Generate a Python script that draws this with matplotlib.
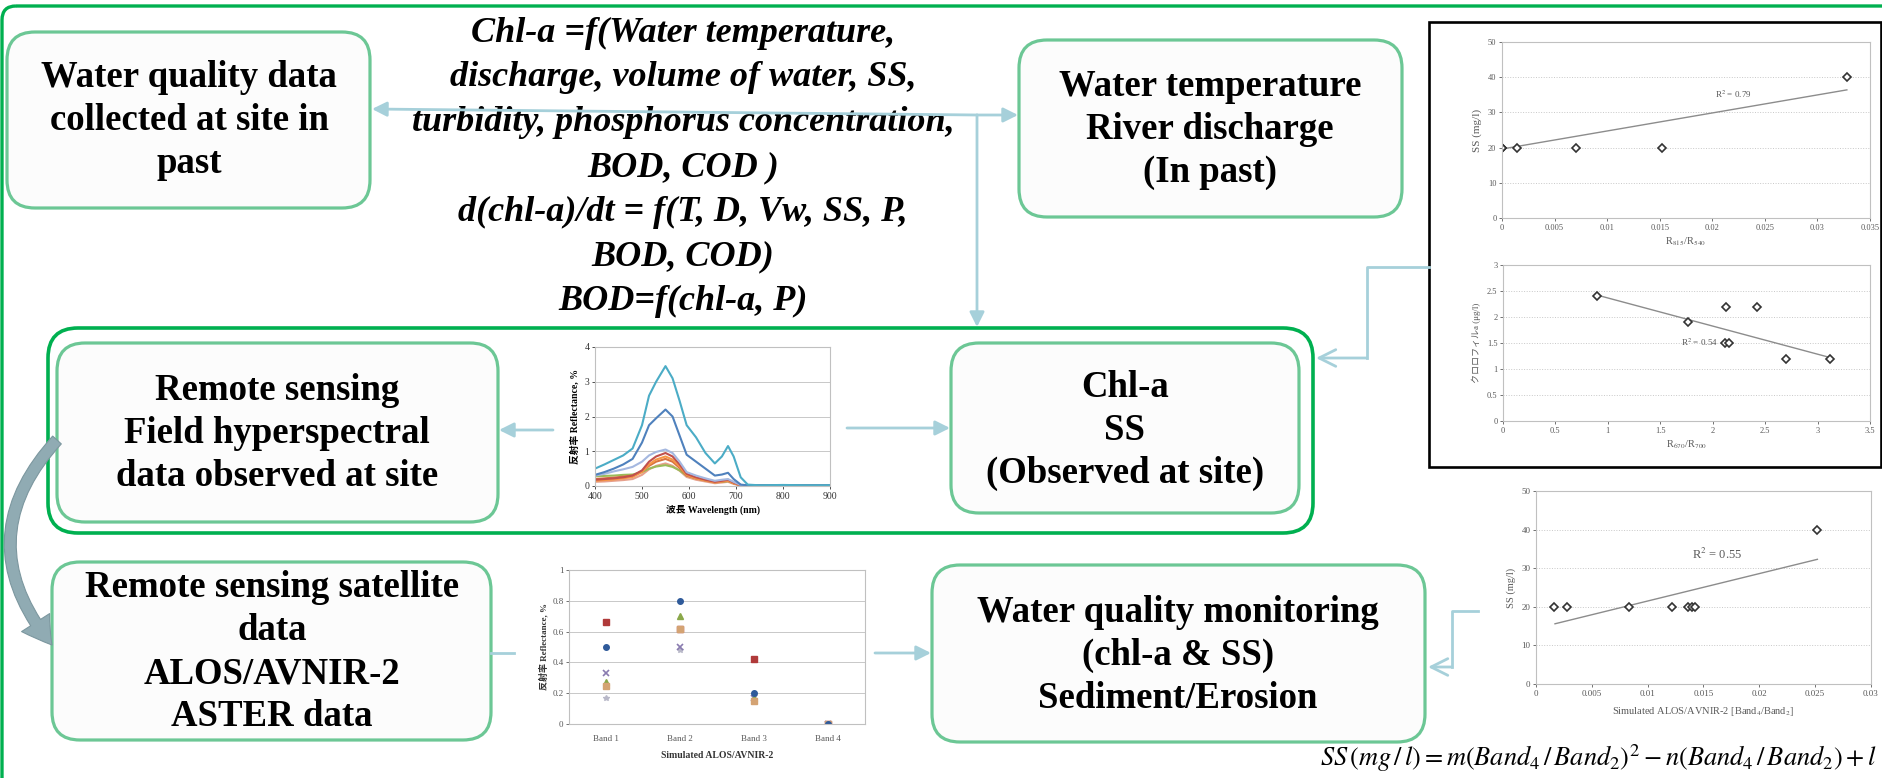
import numpy as np
import matplotlib
matplotlib.use("Agg")
import matplotlib.pyplot as plt
from matplotlib.patches import FancyBboxPatch, Rectangle, FancyArrowPatch
from matplotlib.path import Path

plt.rcParams['font.family'] = 'Liberation Serif'
plt.rcParams['mathtext.fontset'] = 'stix'
CJK = ['Liberation Serif', 'Noto Sans CJK JP']

# ---------------- data ----------------
# flow boxes (text only)
box_past_wq = ["Water quality data", "collected at site in", "past"]
box_past_wt = ["Water temperature", "River discharge", "(In past)"]
box_field = ["Remote sensing", "Field hyperspectral", "data observed at site"]
box_site = ["Chl-a", "SS", "(Observed at site)"]
box_sat = ["Remote sensing satellite", "data", "ALOS/AVNIR-2", "ASTER data"]
box_monitor = ["Water quality monitoring", "(chl-a & SS)", "Sediment/Erosion"]
model_lines = ["Chl-a =f(Water temperature,",
               "discharge, volume of water, SS,",
               "turbidity, phosphorus concentration,",
               "BOD, COD )",
               "d(chl-a)/dt = f(T, D, Vw, SS, P,",
               "BOD, COD)",
               "BOD=f(chl-a, P)"]

# field spectra (reflectance %)
wavelength = [400, 420, 440, 460, 480, 500, 515, 530, 550, 565, 580, 595, 615, 635,
              655, 670, 683, 695, 710, 725, 750, 800, 850, 900]
refl_teal = [0.50, 0.62, 0.75, 0.88, 1.08, 1.75, 2.60, 3.00, 3.45, 3.10, 2.45, 1.75, 1.40, 0.95,
             0.65, 0.85, 1.15, 0.85, 0.25, 0.04, 0.02, 0.03, 0.02, 0.02]
refl_blue = [0.32, 0.40, 0.50, 0.62, 0.78, 1.25, 1.75, 1.95, 2.20, 2.00, 1.45, 0.90, 0.70, 0.50,
             0.30, 0.33, 0.38, 0.20, 0.04, 0.02, 0.02, 0.02, 0.02, 0.02]
refl_lav = [0.30, 0.35, 0.42, 0.48, 0.55, 0.70, 0.88, 0.98, 1.05, 0.95, 0.70, 0.40, 0.30, 0.22,
            0.15, 0.18, 0.20, 0.12, 0.03, 0.01, 0.01, 0.01, 0.01, 0.01]
refl_red = [0.18, 0.20, 0.22, 0.25, 0.30, 0.45, 0.70, 0.85, 0.95, 0.85, 0.62, 0.35, 0.25, 0.18,
            0.12, 0.15, 0.18, 0.10, 0.02, 0.01, 0.01, 0.01, 0.01, 0.01]
refl_orange = [0.15, 0.17, 0.19, 0.22, 0.26, 0.40, 0.62, 0.76, 0.85, 0.76, 0.56, 0.32, 0.22, 0.16,
               0.10, 0.13, 0.15, 0.08, 0.02, 0.01, 0.01, 0.01, 0.01, 0.01]
refl_brown = [0.20, 0.22, 0.24, 0.27, 0.30, 0.42, 0.58, 0.70, 0.78, 0.70, 0.52, 0.30, 0.22, 0.16,
              0.11, 0.13, 0.15, 0.08, 0.02, 0.01, 0.01, 0.01, 0.01, 0.01]
refl_green = [0.28, 0.29, 0.30, 0.32, 0.33, 0.40, 0.50, 0.56, 0.60, 0.55, 0.45, 0.30, 0.22, 0.16,
              0.11, 0.12, 0.14, 0.08, 0.02, 0.01, 0.01, 0.01, 0.01, 0.01]
refl_salmon = [0.12, 0.13, 0.15, 0.17, 0.20, 0.32, 0.48, 0.58, 0.65, 0.58, 0.44, 0.26, 0.18, 0.13,
               0.08, 0.10, 0.12, 0.06, 0.01, 0.01, 0.01, 0.01, 0.01, 0.01]

# simulated ALOS/AVNIR-2 band reflectance
bands = ["Band 1", "Band 2", "Band 3", "Band 4"]
band_blue = [0.50, 0.80, 0.20, 0.0]
band_red = [0.66, 0.62, 0.42, 0.0]
band_green = [0.27, 0.70, 0.17, 0.0]
band_purple = [0.33, 0.50, 0.17, 0.0]
band_star = [0.17, 0.48, 0.16, 0.0]
band_tan = [0.25, 0.62, 0.15, 0.0]

# SS vs R815/R540
ss_ratio = [0.0, 0.0, 0.0, 0.0014, 0.0070, 0.0152, 0.0328]
ss_site = [20, 20, 20, 20, 20, 20, 40]
ss_trend_x = [0.0, 0.0328]
ss_trend_y = [19.6, 36.4]
ss_ticks = [0, 0.005, 0.01, 0.015, 0.02, 0.025, 0.03, 0.035]
ss_ticklabels = ["0", "0.005", "0.01", "0.015", "0.02", "0.025", "0.03", "0.035"]

# Chl-a vs R670/R700
chl_ratio = [0.90, 1.76, 2.13, 2.42, 2.12, 2.16, 2.70, 3.12]
chl_site = [2.4, 1.9, 2.2, 2.2, 1.5, 1.5, 1.2, 1.2]
chl_trend_x = [0.90, 3.12]
chl_trend_y = [2.42, 1.22]

# SS vs simulated Band4/Band2
sat_ratio = [0.0016, 0.0028, 0.0083, 0.0122, 0.0136, 0.0140, 0.0142, 0.0252]
sat_ss = [20, 20, 20, 20, 20, 20, 20, 40]
sat_trend_x = [0.0017, 0.0252]
sat_trend_y = [15.6, 32.3]
sat_ticks = [0, 0.005, 0.01, 0.015, 0.02, 0.025, 0.03]
sat_ticklabels = ["0", "0.005", "0.01", "0.015", "0.02", "0.025", "0.03"]

# ---------------- canvas in pixel coordinates ----------------
W, H = 1883, 778
fig = plt.figure(figsize=(W / 100, H / 100), dpi=100)
ax = fig.add_axes([0, 0, 1, 1])
ax.set_xlim(0, W)
ax.set_ylim(H, 0)
ax.axis('off')

GREEN = '#00b050'
BOX_EDGE = '#6cc795'
ARROW = '#a6d0da'
GRAY = '#595959'


def px_axes(x0, y0, x1, y1):
    return fig.add_axes([x0 / W, 1 - y1 / H, (x1 - x0) / W, (y1 - y0) / H])


def flow_box(x0, y0, x1, y1, lines, cx, cy, pitch=43, fs=26.5):
    ax.add_patch(FancyBboxPatch((x0, y0), x1 - x0, y1 - y0,
                                boxstyle='round,pad=0,rounding_size=28',
                                fc='#fcfcfc', ec=BOX_EDGE, lw=2.3, zorder=2))
    n = len(lines)
    for i, t in enumerate(lines):
        ax.text(cx, cy + (i - (n - 1) / 2) * pitch, t, ha='center', va='center',
                fontsize=fs, fontweight='bold', zorder=3)


def arrow(p0, p1, style='-|>', ms=22):
    ax.annotate('', xy=p1, xytext=p0,
                arrowprops=dict(arrowstyle=style, color=ARROW, lw=2.0,
                                mutation_scale=ms, shrinkA=0, shrinkB=0), zorder=4)


# frames
ax.add_patch(FancyBboxPatch((2, 6), 1990, 900, boxstyle='round,pad=0,rounding_size=14',
                            fc='none', ec=GREEN, lw=2.4, zorder=1))
ax.add_patch(FancyBboxPatch((48, 328), 1313 - 48, 533 - 328,
                            boxstyle='round,pad=0,rounding_size=30',
                            fc='none', ec=GREEN, lw=2.6, zorder=1))
ax.add_patch(Rectangle((1429, 22), 452, 445, fc='white', ec='black', lw=1.9, zorder=1))

# boxes
flow_box(7, 32, 370, 208, box_past_wq, 189, 120)
flow_box(1019, 40, 1402, 217, box_past_wt, 1210, 129)
flow_box(57, 343, 498, 522, box_field, 277, 433)
flow_box(951, 343, 1299, 513, box_site, 1125, 430)
flow_box(52, 562, 491, 740, box_sat, 272, 652)
flow_box(932, 565, 1425, 742, box_monitor, 1178, 655)

# model equations
for i, t in enumerate(model_lines):
    ax.text(683, 33 + i * 44.8, t, ha='center', va='center', fontsize=26,
            fontweight='bold', fontstyle='italic', zorder=3)

# connectors
arrow((977, 115), (372, 109))
arrow((977, 115), (1018, 115))
arrow((977, 115), (977, 327))
arrow((553, 430), (499, 430))
arrow((847, 428), (950, 428))
arrow((875, 653), (931, 653))
ax.plot([491, 514], [653, 653], color=ARROW, lw=2.0, zorder=4)
ax.plot([1429, 1367, 1367], [267, 267, 358], color=ARROW, lw=2.0, zorder=4)
arrow((1367, 358), (1316, 358), style='->', ms=30)
ax.plot([1478, 1452, 1452], [611, 611, 667], color=ARROW, lw=2.0, zorder=4)
arrow((1452, 667), (1428, 667), style='->', ms=30)

curve = Path([(57, 440), (-34, 540), (52, 645)],
             [Path.MOVETO, Path.CURVE3, Path.CURVE3])
ax.add_patch(FancyArrowPatch(path=curve,
                             arrowstyle='simple,head_length=1.0,head_width=1.2,tail_width=0.42',
                             mutation_scale=20, fc='#90abb3', ec='#7c979f', lw=0.8, zorder=4))

# formulas
ax.text(1672, 182, r'$SS\ (mg\ /\ l) = m[\mathrm{R}_{815}/\mathrm{R}_{540}\ )] + n$',
        ha='center', va='center', fontsize=19, zorder=6)
ax.text(1684, 398, r'$Chl - a\ (\mu g\ /\ l) = m[\mathrm{R}_{670}/\mathrm{R}_{700}\ )] + n$',
        ha='center', va='center', fontsize=18, zorder=6)
ax.text(1598, 758, r'$SS\,(mg\,/\,l) = m(Band_4\,/\,Band_2)^2 - n(Band_4\,/\,Band_2) + l$',
        ha='center', va='center', fontsize=19, zorder=6)


def style_mini(a, fs, grid_ls='-'):
    for s in a.spines.values():
        s.set_color('#c0c0c0')
        s.set_linewidth(0.8)
    a.tick_params(labelsize=fs, colors=GRAY, length=2, width=0.6, pad=2)
    a.grid(axis='y', color='#c8c8c8', ls=grid_ls, lw=0.7)
    a.set_axisbelow(True)


# field hyperspectral chart
a_sp = px_axes(595, 347, 830, 486)
for vals, c in [(refl_salmon, '#e6a08c'), (refl_green, '#9bbb59'), (refl_brown, '#d9733f'),
                (refl_orange, '#f79646'), (refl_red, '#c0504d'), (refl_lav, '#a5b8e0'),
                (refl_blue, '#4f81bd'), (refl_teal, '#4bacc6')]:
    a_sp.plot(wavelength, vals, color=c, lw=1.5)
a_sp.set_xlim(400, 900)
a_sp.set_ylim(0, 4)
a_sp.set_xticks([400, 500, 600, 700, 800, 900])
a_sp.set_yticks([0, 1, 2, 3, 4])
style_mini(a_sp, 7)
a_sp.tick_params(colors='#333333')
a_sp.set_xlabel('波長 Wavelength (nm)', fontsize=7, fontweight='bold', family=CJK, labelpad=3)
a_sp.set_ylabel('反射率 Reflectance, %', fontsize=7, fontweight='bold', family=CJK, labelpad=3)

# simulated band chart
a_bd = px_axes(569, 570, 865, 724)
xb = np.arange(len(bands))
a_bd.plot(xb, band_star, ls='none', marker='*', ms=4, color='#b8b8c8')
a_bd.plot(xb, band_purple, ls='none', marker='x', ms=5, mew=1.2, color='#8a7cb0')
a_bd.plot(xb, band_green, ls='none', marker='^', ms=5, color='#8aa84a')
a_bd.plot(xb, band_red, ls='none', marker='s', ms=5, color='#b03a3a')
a_bd.plot(xb, band_tan, ls='none', marker='s', ms=5, color='#d4a373')
a_bd.plot(xb, band_blue, ls='none', marker='o', ms=4, color='#2f5a9a')
a_bd.set_xlim(-0.5, 3.5)
a_bd.set_ylim(0, 1)
a_bd.set_xticks(xb)
a_bd.set_xticklabels(bands)
a_bd.set_yticks([0, 0.2, 0.4, 0.6, 0.8, 1.0])
a_bd.set_yticklabels(['0', '0.2', '0.4', '0.6', '0.8', '1'])
style_mini(a_bd, 6.5)
a_bd.tick_params(axis='x', length=0, pad=8)
a_bd.set_xlabel('Simulated ALOS/AVNIR-2', fontsize=7, fontweight='bold', color='#333333', labelpad=6)
a_bd.set_ylabel('反射率 Reflectance, %', fontsize=6.5, fontweight='bold', color='#333333',
                family=CJK, labelpad=3)

# SS vs R815/R540
a_ss = px_axes(1502, 42, 1870, 218)
a_ss.plot(ss_trend_x, ss_trend_y, color='#8c8c8c', lw=1.0)
a_ss.plot(ss_ratio, ss_site, ls='none', marker='D', ms=4.5, mfc='white', mec='#333333', mew=1.2)
a_ss.set_xlim(0, 0.035)
a_ss.set_ylim(0, 50)
a_ss.set_xticks(ss_ticks)
a_ss.set_xticklabels(ss_ticklabels)
a_ss.set_yticks([0, 10, 20, 30, 40, 50])
style_mini(a_ss, 6, grid_ls=':')
a_ss.set_ylabel('SS (mg/l)', fontsize=8, color=GRAY, labelpad=4)
a_ss.set_xlabel(r'R$_{815}$/R$_{540}$', fontsize=7.5, color=GRAY, labelpad=3)
a_ss.text(0.022, 35, r'R$^2$ = 0.79', fontsize=6.5, color=GRAY, ha='center', va='center')

# Chl-a vs R670/R700
a_ch = px_axes(1503, 265, 1870, 421)
a_ch.plot(chl_trend_x, chl_trend_y, color='#8c8c8c', lw=1.0)
a_ch.plot(chl_ratio, chl_site, ls='none', marker='D', ms=4.5, mfc='white', mec='#333333', mew=1.2)
a_ch.set_xlim(0, 3.5)
a_ch.set_ylim(0, 3)
a_ch.set_xticks([0, 0.5, 1, 1.5, 2, 2.5, 3, 3.5])
a_ch.set_xticklabels(['0', '0.5', '1', '1.5', '2', '2.5', '3', '3.5'])
a_ch.set_yticks([0, 0.5, 1, 1.5, 2, 2.5, 3])
a_ch.set_yticklabels(['0', '0.5', '1', '1.5', '2', '2.5', '3'])
style_mini(a_ch, 6, grid_ls=':')
a_ch.set_ylabel('クロロフィルa (μg/l)', fontsize=6.5, color=GRAY, family=CJK, labelpad=4)
a_ch.set_xlabel(r'R$_{670}$/R$_{700}$', fontsize=7.5, color=GRAY, labelpad=3)
a_ch.text(2.05, 1.52, r'R$^2$ = 0.54', fontsize=6.5, color=GRAY, ha='right', va='center')

# SS vs Band4/Band2
a_st = px_axes(1536, 491, 1871, 684)
a_st.plot(sat_trend_x, sat_trend_y, color='#8c8c8c', lw=1.0)
a_st.plot(sat_ratio, sat_ss, ls='none', marker='D', ms=4.5, mfc='white', mec='#333333', mew=1.2)
a_st.set_xlim(0, 0.03)
a_st.set_ylim(0, 50)
a_st.set_xticks(sat_ticks)
a_st.set_xticklabels(sat_ticklabels)
a_st.set_yticks([0, 10, 20, 30, 40, 50])
style_mini(a_st, 6.5, grid_ls=':')
a_st.set_ylabel('SS (mg/l)', fontsize=7.5, color=GRAY, labelpad=4)
a_st.set_xlabel(r'Simulated ALOS/AVNIR-2 [Band$_4$/Band$_2$]', fontsize=7.5, color=GRAY, labelpad=5)
a_st.text(0.0162, 33.5, r'R$^2$ = 0.55', fontsize=9, color=GRAY, ha='center', va='center')

fig.savefig('out.png', dpi=100)
